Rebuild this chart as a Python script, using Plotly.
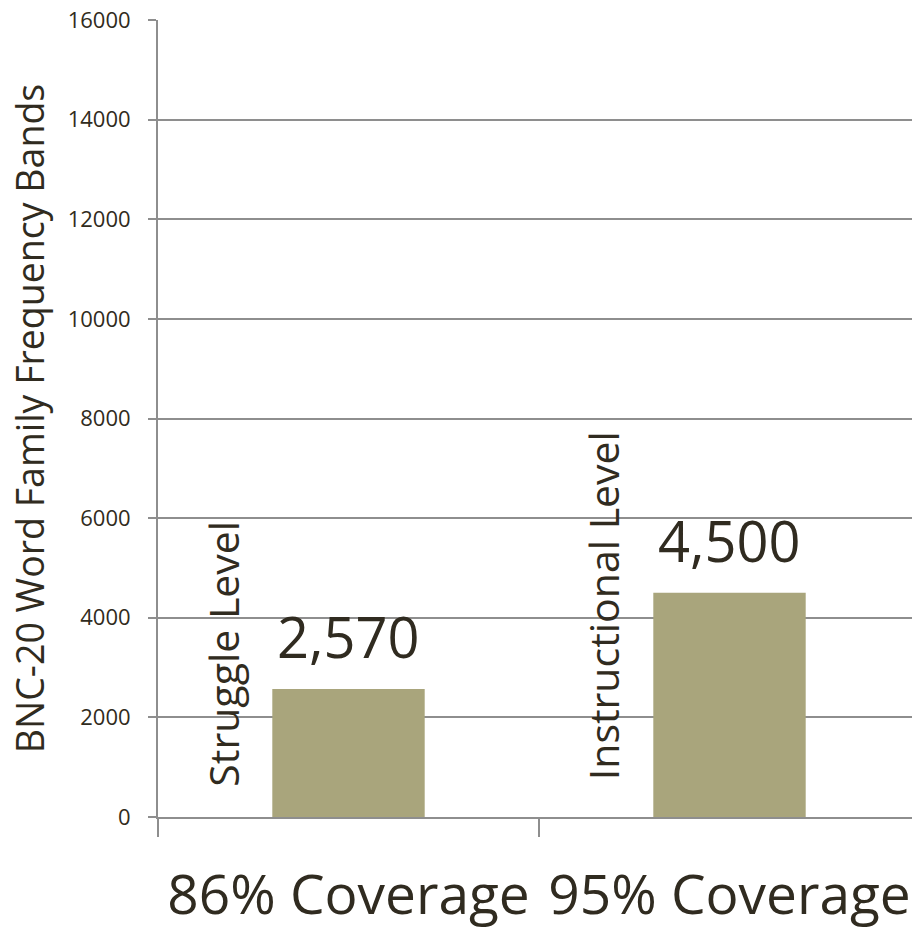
import plotly.graph_objects as go

categories = ["86% Coverage", "95% Coverage"]
values = [2570, 4500]
level_labels = ["Struggle Level", "Instructional Level"]
y_ticks = [0, 2000, 4000, 6000, 8000, 10000, 12000, 14000, 16000]

FONT = "Open Sans"
TEXT_COLOR = "#302B20"
GRID = "#8E8E8E"
BAR = "#A9A57C"

fig = go.Figure()
fig.add_trace(go.Bar(
    x=categories, y=values, width=0.4,
    marker=dict(color=BAR, line=dict(width=0)),
    hoverinfo="skip",
))

annotations = []
# value labels above the bars
for c, v in zip(categories, values):
    annotations.append(dict(
        x=c, y=v, xref="x", yref="y", text=f"{v:,}", showarrow=False,
        xanchor="center", yanchor="bottom", yshift=13,
        font=dict(family=FONT, size=56, color=TEXT_COLOR),
    ))
# rotated level labels to the left of each bar
label_bottoms = [565, 705]
for i, (lab, yb) in enumerate(zip(level_labels, label_bottoms)):
    annotations.append(dict(
        x=i - 0.33, y=yb, xref="x", yref="y", text=lab, showarrow=False,
        textangle=-90, xanchor="center", yanchor="bottom",
        font=dict(family=FONT, size=41, color=TEXT_COLOR),
    ))

fig.update_layout(
    width=912, height=930,
    margin=dict(l=158, r=0, t=20, b=113, pad=0),
    paper_bgcolor="white", plot_bgcolor="white",
    showlegend=False,
    annotations=annotations,
    xaxis=dict(
        type="category", range=[-0.5, -0.5 + 754 / 381], automargin=False,
        tickson="boundaries", ticks="outside", ticklen=18, tickwidth=2, tickcolor=GRID,
        showline=True, linecolor=GRID, linewidth=2,
        showgrid=False, zeroline=False,
        tickfont=dict(family=FONT, size=55, color=TEXT_COLOR),
        ticklabelstandoff=29,
    ),
    yaxis=dict(
        range=[0, 16000], tickvals=y_ticks, ticktext=[str(t) for t in y_ticks],
        automargin=False,
        ticks="outside", ticklen=8, tickwidth=2, tickcolor=GRID,
        showline=True, linecolor=GRID, linewidth=2,
        showgrid=True, gridcolor=GRID, gridwidth=2, zeroline=False,
        tickfont=dict(family=FONT, size=22, color=TEXT_COLOR),
        ticklabelstandoff=13,
        title=dict(text="BNC-20 Word Family Frequency Bands",
                   font=dict(family=FONT, size=37.5, color=TEXT_COLOR), standoff=12),
    ),
)

fig.write_html("out.html")
